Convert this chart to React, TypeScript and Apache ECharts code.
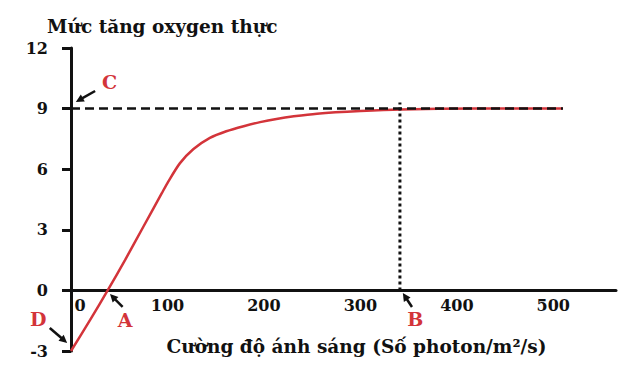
import React, { useEffect, useRef } from "react";
import * as echarts from "echarts";

// Net oxygen curve (light intensity -> net O2 increase)
const curveX = [0, 20, 38, 56, 75, 94, 101, 113, 127, 144, 161, 179, 196, 213, 231, 255, 300, 342, 420, 510];
const curveY = [-3, -1.45, 0, 1.5, 3.15, 4.8, 5.4, 6.3, 7.0, 7.55, 7.88, 8.13, 8.33, 8.49, 8.62, 8.75, 8.88, 8.96, 9.0, 9.0];
// Max level dashed line
const maxLineX = [0, 510];
const maxLineY = [9, 9];
// Saturation point dotted line
const satX = [341, 341];
const satY = [0, 9.3];

// Annotations (data coordinates)
const annotLabels = ["C", "D", "A", "B"];
const labelX = [40, -34, 56, 357];
const labelY = [10.3, -1.42, -1.46, -1.41];
const arrowFromX = [25, -22, 53.5, 353.5];
const arrowFromY = [9.87, -1.86, -0.82, -0.82];
const arrowToX = [5, -4, 40.4, 344];
const arrowToY = [9.33, -2.6, -0.18, -0.13];

const TITLE = "Mức tăng oxygen thực";
const X_NAME = "Cường độ ánh sáng (Số photon/m²/s)";

const FONT = '"DejaVu Serif", "Liberation Serif", serif';
const RED = "#d3343a";
const INK = "#111";

export default function App() {
  const ref = useRef<HTMLDivElement>(null);
  useEffect(() => {
    const chart = echarts.init(ref.current!, null, { renderer: "svg" });
    const option: any = {
      animation: false,
      grid: {
        left: 71,
        top: 48,
        width: 545,
        height: 303,
        containLabel: false,
        outerBoundsMode: "none",
      },
      xAxis: {
        type: "value",
        min: 0,
        max: 565,
        interval: 100,
        name: X_NAME,
        nameLocation: "middle",
        nameGap: 47,
        nameTextStyle: {
          fontFamily: FONT,
          fontSize: 18.5,
          fontWeight: "bold",
          color: INK,
          padding: [0, 0, 0, 26],
        },
        axisLine: { onZero: false, lineStyle: { color: INK, width: 3 } },
        axisTick: { show: false },
        splitLine: { show: false },
        axisLabel: {
          margin: 7,
          showMaxLabel: false,
          fontFamily: FONT,
          fontSize: 16,
          fontWeight: "bold",
          color: INK,
          formatter: (v: number) => (v === 0 ? "{z|0}" : String(v)),
          rich: {
            z: {
              padding: [0, 0, 0, 18],
              fontFamily: FONT,
              fontSize: 16,
              fontWeight: "bold",
              color: INK,
            },
          },
        },
      },
      yAxis: {
        type: "value",
        min: -3,
        max: 12,
        interval: 3,
        axisLine: { show: true, onZero: true, lineStyle: { color: INK, width: 3 } },
        axisTick: { show: true, length: 9, lineStyle: { color: INK, width: 3 } },
        splitLine: { show: false },
        axisLabel: {
          margin: 23,
          fontFamily: FONT,
          fontSize: 16,
          fontWeight: "bold",
          color: INK,
        },
      },
      series: [
        {
          type: "line",
          data: curveX.map((x, i) => [x, curveY[i]]),
          smooth: 0.25,
          showSymbol: false,
          lineStyle: { color: RED, width: 2.5 },
          z: 2,
        },
        {
          type: "line",
          data: maxLineX.map((x, i) => [x, maxLineY[i]]),
          showSymbol: false,
          lineStyle: { color: INK, width: 2.5, type: [9, 5] },
          z: 3,
        },
        {
          type: "line",
          data: satX.map((x, i) => [x, satY[i]]),
          showSymbol: false,
          lineStyle: { color: INK, width: 3, type: [3, 3] },
          z: 3,
        },
      ],
    };
    chart.setOption(option);

    // Place the x axis (line, labels, name) at y = 0
    const zeroPix = chart.convertToPixel({ yAxisIndex: 0 }, 0) as number;
    const minPix = chart.convertToPixel({ yAxisIndex: 0 }, -3) as number;

    const graphics: any[] = [
      {
        type: "text",
        left: 47,
        top: 17,
        z: 10,
        style: {
          text: TITLE,
          fill: INK,
          font: `bold 18.5px ${FONT}`,
          align: "left",
          verticalAlign: "top",
        },
      },
    ];
    annotLabels.forEach((t, i) => {
      const lp = chart.convertToPixel({ gridIndex: 0 }, [labelX[i], labelY[i]]) as number[];
      const fp = chart.convertToPixel({ gridIndex: 0 }, [arrowFromX[i], arrowFromY[i]]) as number[];
      const tp = chart.convertToPixel({ gridIndex: 0 }, [arrowToX[i], arrowToY[i]]) as number[];
      const dx = tp[0] - fp[0];
      const dy = tp[1] - fp[1];
      const len = Math.sqrt(dx * dx + dy * dy) || 1;
      const ux = dx / len;
      const uy = dy / len;
      const px = -uy;
      const py = ux;
      const L = 8;
      const W = 4;
      graphics.push({
        type: "text",
        x: lp[0],
        y: lp[1],
        z: 10,
        style: {
          text: t,
          fill: RED,
          font: `bold 19px ${FONT}`,
          align: "center",
          verticalAlign: "middle",
        },
      });
      graphics.push({
        type: "line",
        z: 10,
        shape: { x1: fp[0], y1: fp[1], x2: tp[0] - ux * L * 0.7, y2: tp[1] - uy * L * 0.7 },
        style: { stroke: INK, lineWidth: 2.5 },
      });
      graphics.push({
        type: "polygon",
        z: 10,
        shape: {
          points: [
            [tp[0], tp[1]],
            [tp[0] - ux * L + px * W, tp[1] - uy * L + py * W],
            [tp[0] - ux * L - px * W, tp[1] - uy * L - py * W],
          ],
        },
        style: { fill: INK },
      });
    });
    chart.setOption({ xAxis: { offset: zeroPix - minPix }, graphic: graphics });
    return () => chart.dispose();
  }, []);
  return (
    <div
      ref={ref}
      style={{ position: "fixed", left: 0, top: 0, width: 620, height: 380, background: "#fff" }}
    />
  );
}
